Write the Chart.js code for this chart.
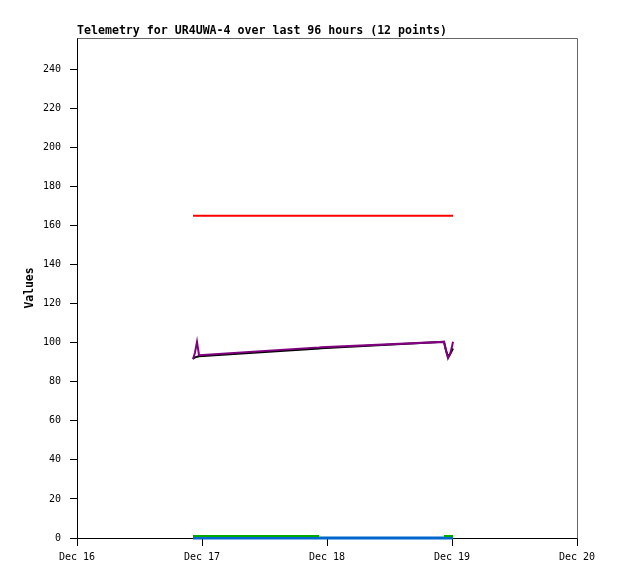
<!DOCTYPE html>
<html>
<head>
<meta charset="utf-8">
<title>Telemetry</title>
<script src="https://cdn.jsdelivr.net/npm/chart.js@4/dist/chart.umd.min.js"></script>
<style>
  body { margin: 0; background: #fff; }
  canvas { display: block; }
</style>
</head>
<body>
<canvas id="chart" width="618" height="579"></canvas>
<script>
const chartTitle = "Telemetry for UR4UWA-4 over last 96 hours (12 points)";
const xLabels = ["Dec 16", "Dec 17", "Dec 18", "Dec 19", "Dec 20"];
const yTicks = [0, 20, 40, 60, 80, 100, 120, 140, 160, 180, 200, 220, 240];

// time of each sample, in days since Dec 16 00:00
const sampleDays = [0.928, 0.944, 0.960, 0.976, 1.936, 1.952, 2.936, 2.952, 2.968, 2.984, 3.000, 3.008];

const redValues = [165, 165, 165, 165, 165, 165, 165, 165, 165, 165, 165, 165];
const purpleValues = [91.5, 95, 100.5, 93.6, 97.6, 97.7, 100.4, 96, 92, 94, 98, 100.5];
const blackValues = [91.8, 92.5, 92.8, 93, 97, 97.1, 100.5, 96, 93, 94, 96, 97];
const greenValues = [1, 1, 1, 1, 1, null, 1, 1, 1, 1, 1, 1];
const blueValues = [0, 0, 0, 0, 0, 0, 0, 0, 0, 0, 0, 0];

const monoFont = "'DejaVu Sans Mono', 'Liberation Mono', monospace";

function points(values) {
  return values.map((v, i) => ({ x: sampleDays[i], y: v }));
}

function series(values, color, width) {
  return {
    data: points(values),
    borderColor: color,
    backgroundColor: color,
    borderWidth: width || 2,
    pointRadius: 0,
    tension: 0,
    spanGaps: false,
    clip: 4,
  };
}

const framePlugin = {
  id: "frame",
  afterDraw(chart) {
    const ctx = chart.ctx;
    const a = chart.chartArea;
    ctx.save();
    ctx.strokeStyle = "#666";
    ctx.lineWidth = 1;
    ctx.beginPath();
    ctx.moveTo(Math.round(a.left) + 0.5, Math.round(a.top) + 0.5);
    ctx.lineTo(Math.round(a.right) + 0.5, Math.round(a.top) + 0.5);
    ctx.lineTo(Math.round(a.right) + 0.5, Math.round(a.bottom) + 0.5);
    ctx.stroke();

    ctx.fillStyle = "#000";
    ctx.font = "bold 11.6px " + monoFont;
    ctx.textAlign = "left";
    ctx.textBaseline = "alphabetic";
    ctx.fillText(chartTitle, a.left, a.top - 4);
    ctx.restore();
  },
};

new Chart(document.getElementById("chart"), {
  type: "line",
  data: {
    datasets: [
      series(redValues, "#ff0000"),
      series(purpleValues, "#800080"),
      series(blackValues, "#000000"),
      series(greenValues, "#00aa00"),
      series(blueValues, "#0066cc", 3),
    ],
  },
  options: {
    responsive: false,
    animation: false,
    devicePixelRatio: 1,
    layout: { padding: { top: 38, right: 41, left: 0, bottom: 0 } },
    plugins: {
      legend: { display: false },
      tooltip: { enabled: false },
      title: { display: false },
    },
    scales: {
      x: {
        type: "linear",
        min: 0,
        max: 4,
        afterBuildTicks: (scale) => {
          scale.ticks = xLabels.map((_, i) => ({ value: i }));
        },
        afterFit: (scale) => { scale.height = 41; },
        grid: { drawOnChartArea: false, drawTicks: true, tickLength: 8, color: "#000" },
        border: { display: true, color: "#000", width: 1 },
        ticks: {
          color: "#000",
          font: { family: monoFont, size: 10 },
          padding: 5,
          maxRotation: 0,
          autoSkip: false,
          callback: (v) => xLabels[v],
        },
      },
      y: {
        type: "linear",
        min: 0,
        max: 256,
        afterBuildTicks: (scale) => {
          scale.ticks = yTicks.map((v) => ({ value: v }));
        },
        afterFit: (scale) => { scale.width = 77; },
        grid: { drawOnChartArea: false, drawTicks: true, tickLength: 7, color: "#000" },
        border: { display: true, color: "#000", width: 1 },
        ticks: {
          color: "#000",
          font: { family: monoFont, size: 10 },
          padding: 9,
          autoSkip: false,
        },
        title: {
          display: true,
          text: "Values",
          color: "#000",
          font: { family: monoFont, size: 11.4, weight: "bold" },
          padding: { top: 23, bottom: 0 },
        },
      },
    },
  },
  plugins: [framePlugin],
});
</script>
</body>
</html>
